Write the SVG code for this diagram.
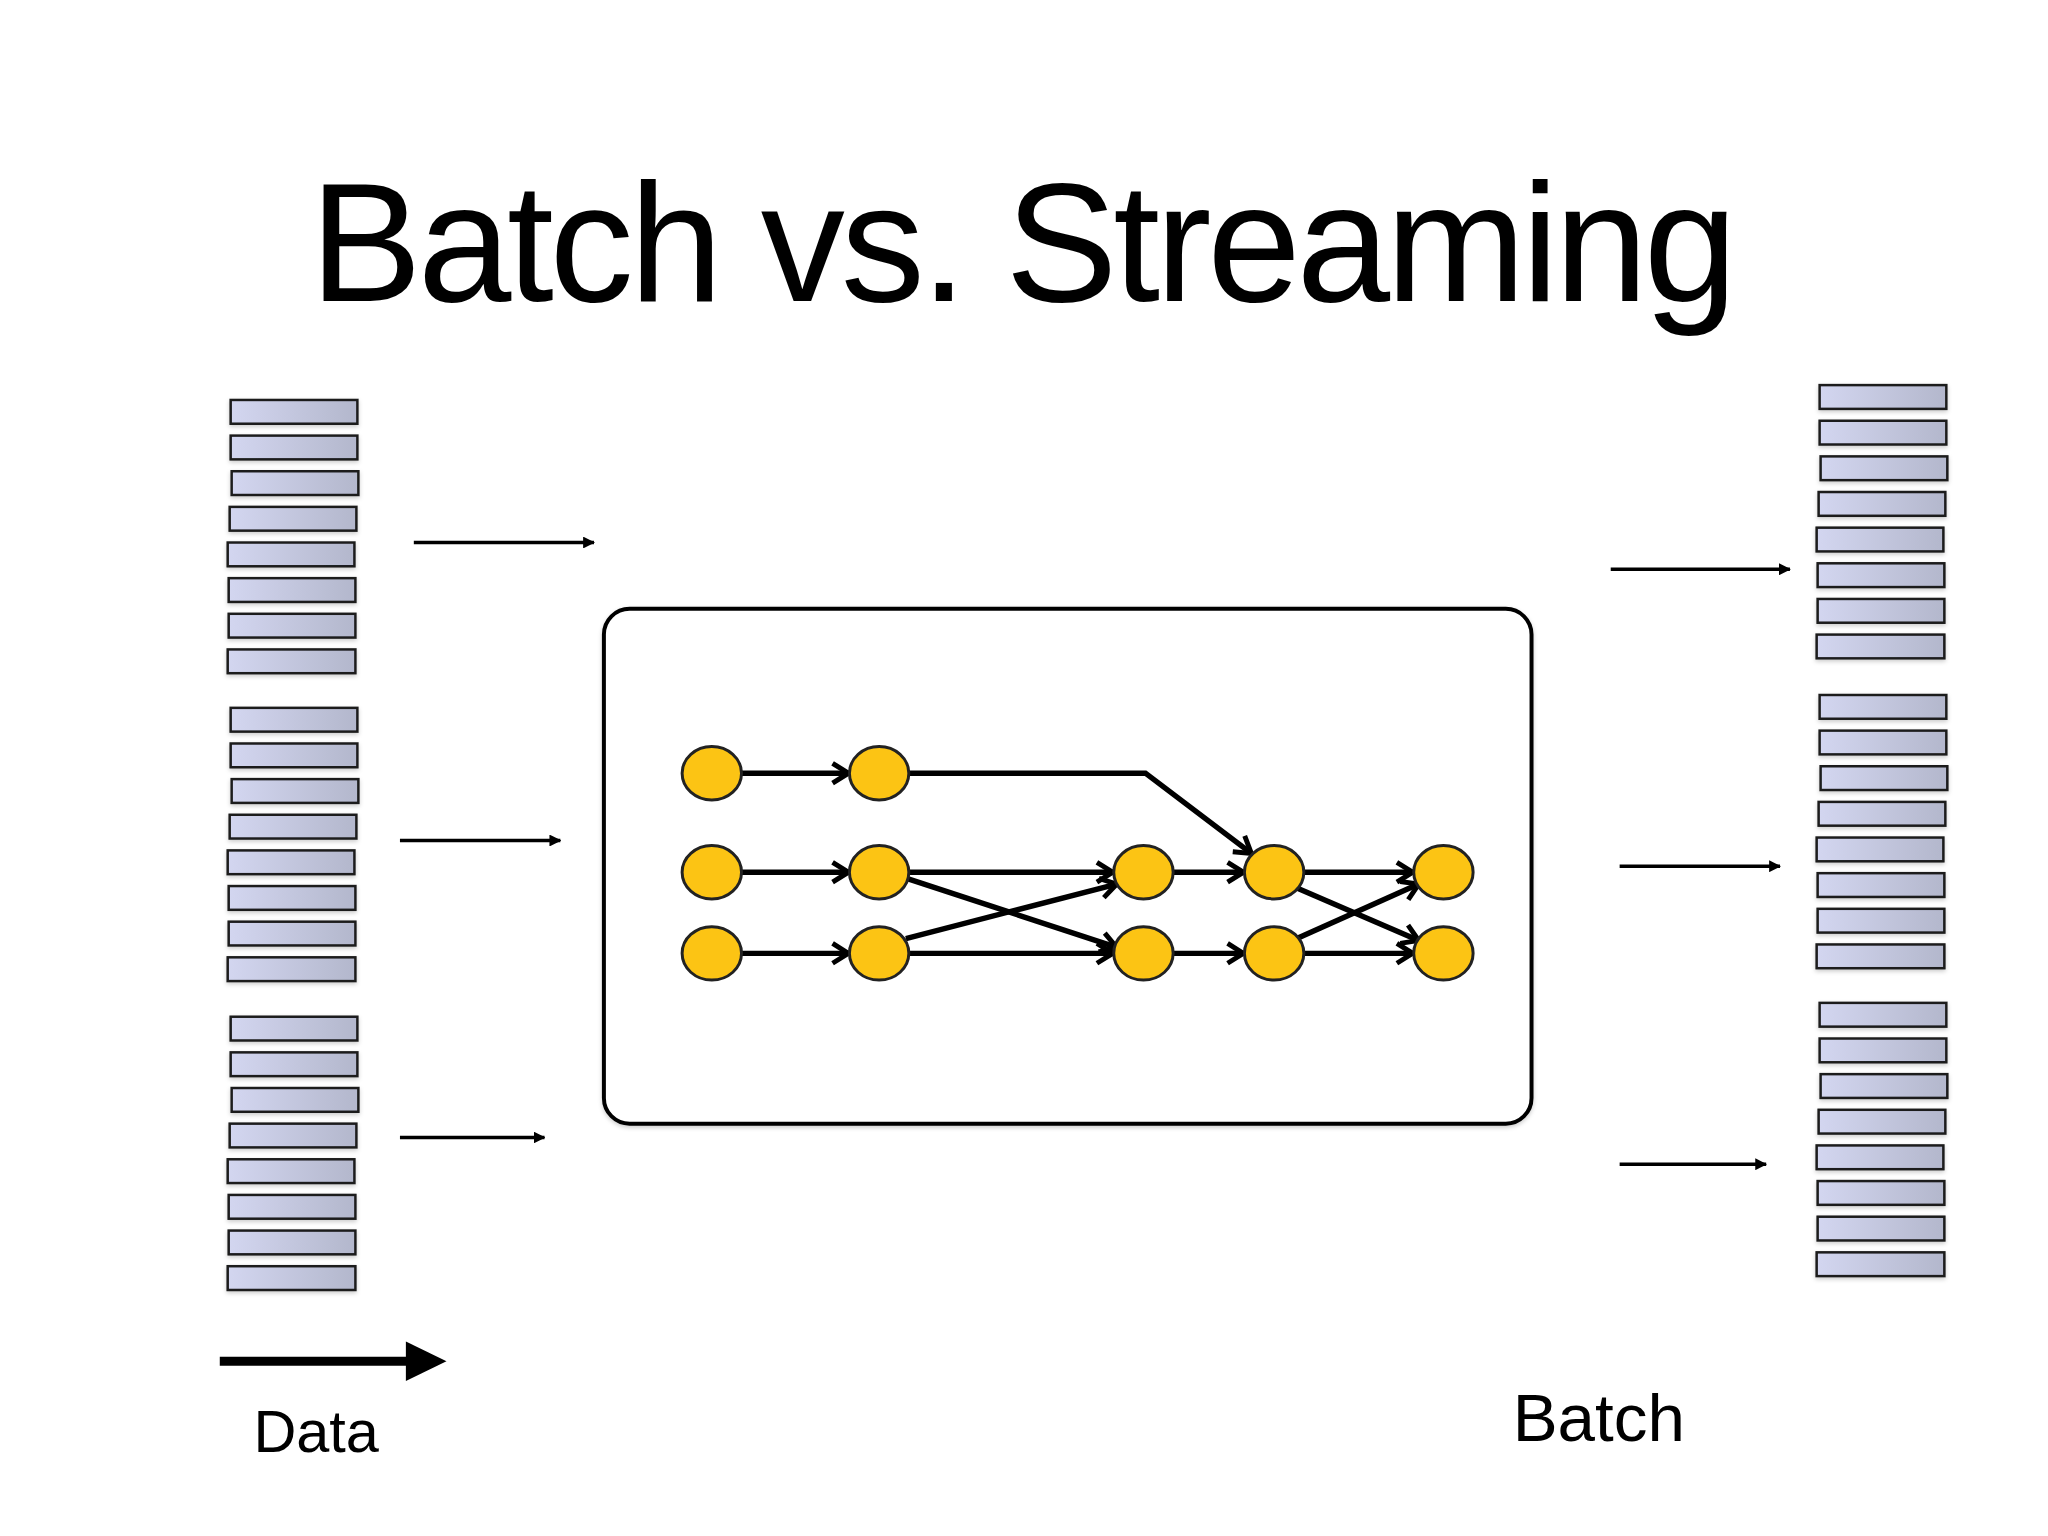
<svg xmlns="http://www.w3.org/2000/svg" width="2048" height="1536" viewBox="0 0 2048 1536">
<defs>
<linearGradient id="bg" x1="0" y1="0" x2="1" y2="0"><stop offset="0" stop-color="#d3d6f0"/><stop offset="1" stop-color="#b3b7cc"/></linearGradient>
<marker id="ah" markerWidth="12" markerHeight="12" refX="11" refY="6" orient="auto" markerUnits="userSpaceOnUse" viewBox="0 0 12 12"><path d="M0,0 L12,6 L0,12 Z" fill="#000"/></marker>
<marker id="ch" markerWidth="26" markerHeight="26" refX="22" refY="13" orient="auto" markerUnits="userSpaceOnUse" viewBox="0 0 26 26"><path d="M6,3 L22,13 L6,23" fill="none" stroke="#000" stroke-width="5"/></marker>
<filter id="sh" x="-10%" y="-30%" width="120%" height="160%"><feDropShadow dx="0" dy="2" stdDeviation="2" flood-color="#000" flood-opacity="0.2"/></filter>
</defs>
<style>
.bar{fill:url(#bg);stroke:#1a1a1a;stroke-width:2.5;filter:url(#sh)}
.arr{stroke:#000;stroke-width:3.5;marker-end:url(#ah)}
.e{stroke:#000;stroke-width:5.5;fill:none;marker-end:url(#ch)}
.n{fill:#fcc414;stroke:#222;stroke-width:3}
text{font-family:"Liberation Sans",Arial,sans-serif;fill:#000}
</style>
<rect width="2048" height="1536" fill="#fff"/>
<g transform="scale(0.99)">
<text x="313" y="304" font-size="170" textLength="1442">Batch vs. Streaming</text>
<g id="left-stacks">
<rect class="bar" x="233" y="404" width="128" height="24"/><rect class="bar" x="233" y="440" width="128" height="24"/><rect class="bar" x="234" y="476" width="128" height="24"/><rect class="bar" x="232" y="512" width="128" height="24"/><rect class="bar" x="230" y="548" width="128" height="24"/><rect class="bar" x="231" y="584" width="128" height="24"/><rect class="bar" x="231" y="620" width="128" height="24"/><rect class="bar" x="230" y="656" width="129" height="24"/>
<rect class="bar" x="233" y="715" width="128" height="24"/><rect class="bar" x="233" y="751" width="128" height="24"/><rect class="bar" x="234" y="787" width="128" height="24"/><rect class="bar" x="232" y="823" width="128" height="24"/><rect class="bar" x="230" y="859" width="128" height="24"/><rect class="bar" x="231" y="895" width="128" height="24"/><rect class="bar" x="231" y="931" width="128" height="24"/><rect class="bar" x="230" y="967" width="129" height="24"/>
<rect class="bar" x="233" y="1027" width="128" height="24"/><rect class="bar" x="233" y="1063" width="128" height="24"/><rect class="bar" x="234" y="1099" width="128" height="24"/><rect class="bar" x="232" y="1135" width="128" height="24"/><rect class="bar" x="230" y="1171" width="128" height="24"/><rect class="bar" x="231" y="1207" width="128" height="24"/><rect class="bar" x="231" y="1243" width="128" height="24"/><rect class="bar" x="230" y="1279" width="129" height="24"/>
</g>
<g id="right-stacks">
<rect class="bar" x="1838" y="389" width="128" height="24"/><rect class="bar" x="1838" y="425" width="128" height="24"/><rect class="bar" x="1839" y="461" width="128" height="24"/><rect class="bar" x="1837" y="497" width="128" height="24"/><rect class="bar" x="1835" y="533" width="128" height="24"/><rect class="bar" x="1836" y="569" width="128" height="24"/><rect class="bar" x="1836" y="605" width="128" height="24"/><rect class="bar" x="1835" y="641" width="129" height="24"/>
<rect class="bar" x="1838" y="702" width="128" height="24"/><rect class="bar" x="1838" y="738" width="128" height="24"/><rect class="bar" x="1839" y="774" width="128" height="24"/><rect class="bar" x="1837" y="810" width="128" height="24"/><rect class="bar" x="1835" y="846" width="128" height="24"/><rect class="bar" x="1836" y="882" width="128" height="24"/><rect class="bar" x="1836" y="918" width="128" height="24"/><rect class="bar" x="1835" y="954" width="129" height="24"/>
<rect class="bar" x="1838" y="1013" width="128" height="24"/><rect class="bar" x="1838" y="1049" width="128" height="24"/><rect class="bar" x="1839" y="1085" width="128" height="24"/><rect class="bar" x="1837" y="1121" width="128" height="24"/><rect class="bar" x="1835" y="1157" width="128" height="24"/><rect class="bar" x="1836" y="1193" width="128" height="24"/><rect class="bar" x="1836" y="1229" width="128" height="24"/><rect class="bar" x="1835" y="1265" width="129" height="24"/>
</g>
<g id="connectors">
<line class="arr" x1="418" y1="548" x2="600" y2="548"/>
<line class="arr" x1="404" y1="849" x2="566" y2="849"/>
<line class="arr" x1="404" y1="1149" x2="550" y2="1149"/>
<line class="arr" x1="1627" y1="575" x2="1808" y2="575"/>
<line class="arr" x1="1636" y1="875" x2="1798" y2="875"/>
<line class="arr" x1="1636" y1="1176" x2="1784" y2="1176"/>
<line x1="222" y1="1375" x2="412" y2="1375" stroke="#000" stroke-width="9"/>
<path d="M410,1355 L451,1375 L410,1395 Z" fill="#000"/>
</g>
<g id="processor">
<rect x="610" y="615" width="937" height="520" rx="26" fill="#fff" stroke="#000" stroke-width="4" filter="url(#sh)"/>
<g id="graph-edges">
<line class="e" x1="749" y1="781" x2="857" y2="781"/>
<path class="e" d="M918,781 L1157,781 L1264,862"/>
<line class="e" x1="749" y1="881" x2="857" y2="881"/>
<line class="e" x1="918" y1="881" x2="1124" y2="881"/>
<line class="e" x1="1185" y1="881" x2="1256" y2="881"/>
<line class="e" x1="1317" y1="881" x2="1427" y2="881"/>
<line class="e" x1="749" y1="963" x2="857" y2="963"/>
<line class="e" x1="918" y1="963" x2="1124" y2="963"/>
<line class="e" x1="1185" y1="963" x2="1256" y2="963"/>
<line class="e" x1="1317" y1="963" x2="1427" y2="963"/>
<line class="e" x1="915" y1="887" x2="1128" y2="957"/>
<line class="e" x1="915" y1="948" x2="1128" y2="893"/>
<line class="e" x1="1310" y1="897" x2="1433" y2="950"/>
<line class="e" x1="1310" y1="948" x2="1433" y2="893"/>
</g>
<g id="graph-nodes">
<ellipse class="n" cx="719" cy="781" rx="30" ry="27"/><ellipse class="n" cx="888" cy="781" rx="30" ry="27"/>
<ellipse class="n" cx="719" cy="881" rx="30" ry="27"/><ellipse class="n" cx="888" cy="881" rx="30" ry="27"/><ellipse class="n" cx="1155" cy="881" rx="30" ry="27"/><ellipse class="n" cx="1287" cy="881" rx="30" ry="27"/><ellipse class="n" cx="1458" cy="881" rx="30" ry="27"/>
<ellipse class="n" cx="719" cy="963" rx="30" ry="27"/><ellipse class="n" cx="888" cy="963" rx="30" ry="27"/><ellipse class="n" cx="1155" cy="963" rx="30" ry="27"/><ellipse class="n" cx="1287" cy="963" rx="30" ry="27"/><ellipse class="n" cx="1458" cy="963" rx="30" ry="27"/>
</g>
</g>
<text x="256" y="1467" font-size="60">Data</text>
<text x="1528" y="1456" font-size="68">Batch</text>
</g>
</svg>
